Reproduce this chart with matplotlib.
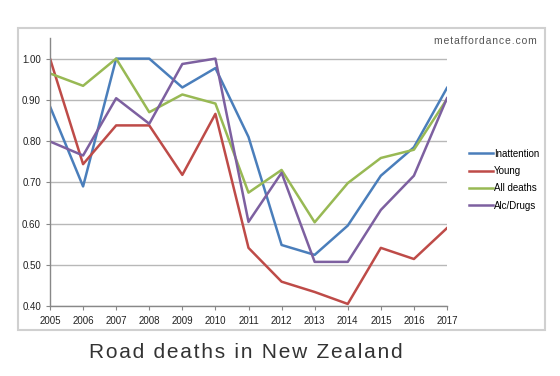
import matplotlib
matplotlib.use("Agg")
import matplotlib.pyplot as plt
from matplotlib.patches import Rectangle

# data
years = [2005, 2006, 2007, 2008, 2009, 2010, 2011, 2012, 2013, 2014, 2015, 2016, 2017]
inattention = [0.884, 0.690, 1.000, 1.000, 0.930, 0.977, 0.810, 0.548, 0.524, 0.595, 0.716, 0.785, 0.929]
young = [1.000, 0.744, 0.838, 0.838, 0.718, 0.866, 0.541, 0.459, 0.434, 0.405, 0.541, 0.514, 0.589]
all_deaths = [0.964, 0.934, 1.000, 0.870, 0.913, 0.891, 0.675, 0.730, 0.603, 0.698, 0.759, 0.779, 0.902]
alc_drugs = [0.799, 0.765, 0.904, 0.842, 0.987, 1.000, 0.604, 0.723, 0.507, 0.507, 0.633, 0.716, 0.904]
yticks = [0.40, 0.50, 0.60, 0.70, 0.80, 0.90, 1.00]

plt.rcParams['font.family'] = ['Liberation Sans', 'DejaVu Sans']

fig = plt.figure(figsize=(5.6, 3.76), dpi=100)
fig.patch.set_facecolor('white')

# outer chart frame
fig.patches.append(Rectangle((18 / 560, 1 - 330 / 376), 527 / 560, 302 / 376,
                             transform=fig.transFigure, fill=False,
                             edgecolor='#d0d0d0', linewidth=1.5))

ax = fig.add_axes([50 / 560, 1 - 306 / 376, 397 / 560, 268 / 376])

ax.plot(years, inattention, color='#4a7ebb', lw=1.8, label='Inattention')
ax.plot(years, young, color='#be4b48', lw=1.8, label='Young')
ax.plot(years, all_deaths, color='#98b954', lw=1.8, label='All deaths')
ax.plot(years, alc_drugs, color='#7d60a0', lw=1.8, label='Alc/Drugs')

ax.set_xlim(2005, 2017)
ax.set_ylim(0.40, 1.05)
ax.set_xticks(years)
ax.set_xticklabels([str(y) for y in years])
ax.set_yticks(yticks)
ax.set_yticklabels([f'{v:.2f}' for v in yticks])
ax.grid(axis='y', color='#b8b8b8', lw=1)
ax.set_axisbelow(True)

for s in ['top', 'right']:
    ax.spines[s].set_visible(False)
for s in ['left', 'bottom']:
    ax.spines[s].set_color('#888888')
    ax.spines[s].set_linewidth(1)
ax.tick_params(axis='both', labelsize=7, colors='#888888', labelcolor='#222222',
               length=3, width=0.8)
ax.tick_params(axis='x', pad=4)

ax.legend(loc='upper left', bbox_to_anchor=(460 / 560, 1 - 140 / 376),
          bbox_transform=fig.transFigure, frameon=False, fontsize=7,
          handlelength=2.5, handletextpad=0.1, labelspacing=0.75)

# letter-spaced texts
def spaced(s):
    return '\u200a'.join(s)

fig.text(537 / 560, 1 - 41 / 376, spaced('metaffordance.com'),
         ha='right', va='center', fontsize=7.5, color='#555555')
fig.text(246 / 560, 1 - 352 / 376, spaced('Road deaths in New Zealand'),
         ha='center', va='center', fontsize=15, color='#333333')

fig.savefig('out.png', dpi=100)
